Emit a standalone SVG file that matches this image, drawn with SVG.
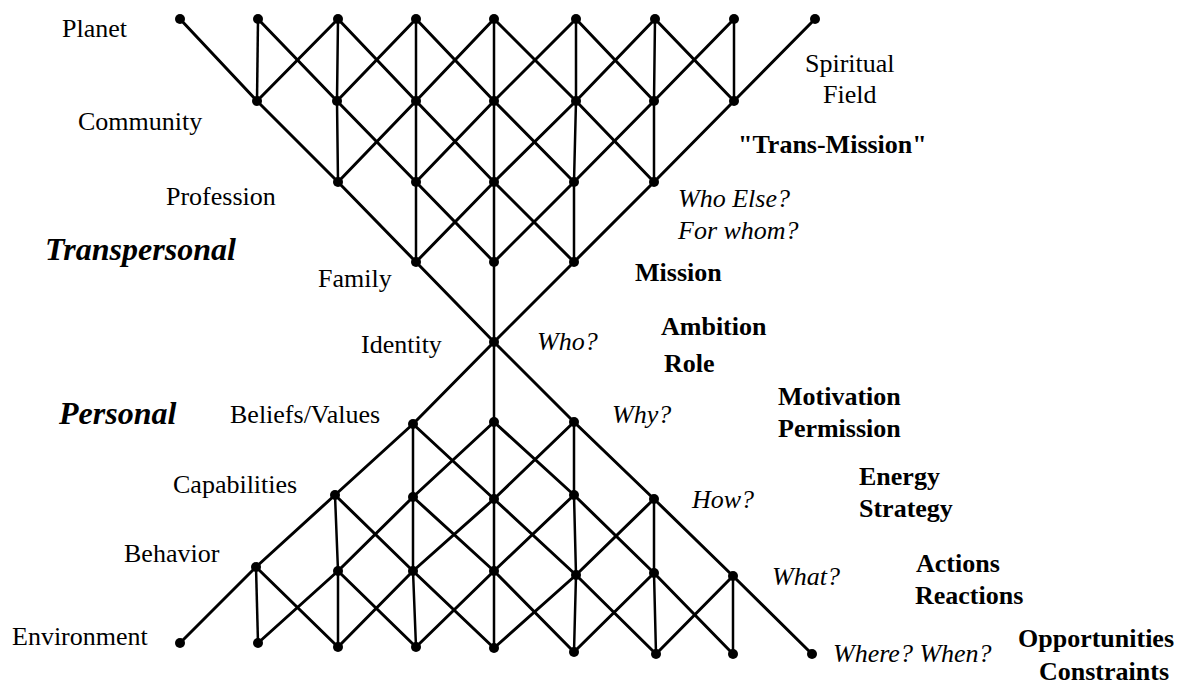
<svg xmlns="http://www.w3.org/2000/svg" width="1178" height="684" viewBox="0 0 1178 684">
<style>
  .d { fill: none; stroke: #000; stroke-width: 3; stroke-linejoin: round; stroke-linecap: round; }
  .v { fill: none; stroke: #000; stroke-width: 2.5; }
  .dot { fill: #000; }
  text { font-family: "Liberation Serif", "Times New Roman", serif; font-size: 26px; fill: #000; }
  .b { font-weight: bold; }
  .i { font-style: italic; }
  .bi { font-weight: bold; font-style: italic; font-size: 32px; }
</style>
<rect width="1178" height="684" fill="#fff"/>
<g id="connectors">
  <!-- top verticals -->
  <polyline class="v" points="258,19 257,101"/>
  <polyline class="v" points="338,19 337,101 338,182"/>
  <polyline class="v" points="416,19 416,101 416,182 416,262"/>
  <polyline class="v" points="494,19 494,648"/>
  <polyline class="v" points="576,19 576,101 574,182 574,262"/>
  <polyline class="v" points="655,19 654,101 654,182"/>
  <polyline class="v" points="734,19 734,101"/>
  <!-- bottom verticals -->
  <polyline class="v" points="413,424 413,497 413,571 416,647"/>
  <polyline class="v" points="574,422 574,495 576,575 574,652"/>
  <polyline class="v" points="335,495 338,571 338,647"/>
  <polyline class="v" points="654,499 654,573 656,654"/>
  <polyline class="v" points="256,567 258,643"/>
  <polyline class="v" points="733,576 733,654"/>
  <!-- top down-right -->
  <polyline class="d" points="180,19 257,101 338,182 416,262 494,342"/>
  <polyline class="d" points="258,19 337,101 416,182 494,262"/>
  <polyline class="d" points="338,19 416,101 494,182 574,262"/>
  <polyline class="d" points="416,19 494,101 574,182"/>
  <polyline class="d" points="494,19 576,101 654,182"/>
  <polyline class="d" points="576,19 654,101"/>
  <polyline class="d" points="655,19 734,101"/>
  <!-- top down-left -->
  <polyline class="d" points="815,19 734,101 654,182 574,262 494,342"/>
  <polyline class="d" points="734,19 654,101 574,182 494,262"/>
  <polyline class="d" points="655,19 576,101 494,182 416,262"/>
  <polyline class="d" points="576,19 494,101 416,182"/>
  <polyline class="d" points="494,19 416,101 338,182"/>
  <polyline class="d" points="416,19 337,101"/>
  <polyline class="d" points="338,19 257,101"/>
  <!-- bottom up-right -->
  <polyline class="d" points="180,643 256,567 335,495 413,424 494,342"/>
  <polyline class="d" points="258,643 338,571 413,497 494,422"/>
  <polyline class="d" points="338,647 413,571 494,499 574,422"/>
  <polyline class="d" points="416,647 494,571 574,495"/>
  <polyline class="d" points="494,648 576,575 654,499"/>
  <polyline class="d" points="574,652 654,573"/>
  <polyline class="d" points="656,654 733,576"/>
  <!-- bottom down-right -->
  <polyline class="d" points="494,342 574,422 654,499 733,576 812,654"/>
  <polyline class="d" points="494,422 574,495 654,573 733,654"/>
  <polyline class="d" points="413,424 494,499 576,575 656,654"/>
  <polyline class="d" points="335,495 413,571 494,648"/>
  <polyline class="d" points="413,497 494,571 574,652"/>
  <polyline class="d" points="338,571 416,647"/>
  <polyline class="d" points="256,567 338,647"/>
</g>
<g id="nodes">
  <g id="row-planet" class="dot">
    <circle cx="180" cy="19" r="5"/><circle cx="258" cy="19" r="5"/><circle cx="338" cy="19" r="5"/>
    <circle cx="416" cy="19" r="5"/><circle cx="494" cy="19" r="5"/><circle cx="576" cy="19" r="5"/>
    <circle cx="655" cy="19" r="5"/><circle cx="734" cy="19" r="5"/><circle cx="815" cy="19" r="5"/>
  </g>
  <g id="row-community" class="dot">
    <circle cx="257" cy="101" r="5"/><circle cx="337" cy="101" r="5"/><circle cx="416" cy="101" r="5"/>
    <circle cx="494" cy="101" r="5"/><circle cx="576" cy="101" r="5"/><circle cx="654" cy="101" r="5"/>
    <circle cx="734" cy="101" r="5"/>
  </g>
  <g id="row-profession" class="dot">
    <circle cx="338" cy="182" r="5"/><circle cx="416" cy="182" r="5"/><circle cx="494" cy="182" r="5"/>
    <circle cx="574" cy="182" r="5"/><circle cx="654" cy="182" r="5"/>
  </g>
  <g id="row-family" class="dot">
    <circle cx="416" cy="262" r="5"/><circle cx="494" cy="262" r="5"/><circle cx="574" cy="262" r="5"/>
  </g>
  <g id="row-identity" class="dot">
    <circle cx="494" cy="342" r="5"/>
  </g>
  <g id="row-beliefs" class="dot">
    <circle cx="413" cy="424" r="5"/><circle cx="494" cy="422" r="5"/><circle cx="574" cy="422" r="5"/>
  </g>
  <g id="row-capabilities" class="dot">
    <circle cx="335" cy="495" r="5"/><circle cx="413" cy="497" r="5"/><circle cx="494" cy="499" r="5"/>
    <circle cx="574" cy="495" r="5"/><circle cx="654" cy="499" r="5"/>
  </g>
  <g id="row-behavior" class="dot">
    <circle cx="256" cy="567" r="5"/><circle cx="338" cy="571" r="5"/><circle cx="413" cy="571" r="5"/>
    <circle cx="494" cy="571" r="5"/><circle cx="576" cy="575" r="5"/><circle cx="654" cy="573" r="5"/>
    <circle cx="733" cy="576" r="5"/>
  </g>
  <g id="row-environment" class="dot">
    <circle cx="180" cy="643" r="5"/><circle cx="258" cy="643" r="5"/><circle cx="338" cy="647" r="5"/>
    <circle cx="416" cy="647" r="5"/><circle cx="494" cy="648" r="5"/><circle cx="574" cy="652" r="5"/>
    <circle cx="656" cy="654" r="5"/><circle cx="733" cy="654" r="5"/><circle cx="812" cy="654" r="5"/>
  </g>
</g>
<g id="level-labels">
  <text x="62" y="37">Planet</text>
  <text x="78" y="130">Community</text>
  <text x="166" y="205">Profession</text>
  <text x="318" y="287">Family</text>
  <text x="361" y="353">Identity</text>
  <text x="230" y="423">Beliefs/Values</text>
  <text x="173" y="493">Capabilities</text>
  <text x="124" y="562">Behavior</text>
  <text x="12" y="645">Environment</text>
  <text x="805" y="72">Spiritual</text>
  <text x="823" y="103">Field</text>
</g>
<g id="group-labels">
  <text class="bi" x="45" y="260">Transpersonal</text>
  <text class="bi" x="59" y="424">Personal</text>
</g>
<g id="questions">
  <text class="i" x="678" y="207">Who Else?</text>
  <text class="i" x="678" y="239">For whom?</text>
  <text class="i" x="537" y="350">Who?</text>
  <text class="i" x="612" y="423">Why?</text>
  <text class="i" x="692" y="508">How?</text>
  <text class="i" x="772" y="585">What?</text>
  <text class="i" x="833" y="662">Where? When?</text>
</g>
<g id="functions">
  <text class="b" x="738" y="153">"Trans-Mission"</text>
  <text class="b" x="635" y="281">Mission</text>
  <text class="b" x="661" y="335">Ambition</text>
  <text class="b" x="664" y="372">Role</text>
  <text class="b" x="778" y="405">Motivation</text>
  <text class="b" x="778" y="437">Permission</text>
  <text class="b" x="859" y="485">Energy</text>
  <text class="b" x="859" y="517">Strategy</text>
  <text class="b" x="916" y="572">Actions</text>
  <text class="b" x="915" y="604">Reactions</text>
  <text class="b" x="1018" y="647">Opportunities</text>
  <text class="b" x="1039" y="680">Constraints</text>
</g>
</svg>
